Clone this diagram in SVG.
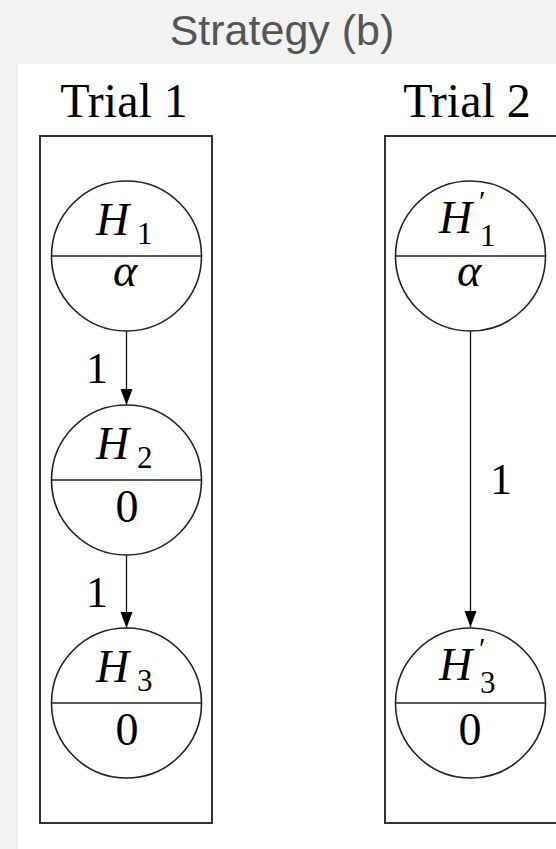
<svg xmlns="http://www.w3.org/2000/svg" width="556" height="849" viewBox="0 0 556 849">
<style>
.box{fill:none;stroke:#333;stroke-width:2}
.node{fill:#fff;stroke:#222;stroke-width:1.6}
.div{stroke:#222;stroke-width:1.6}
.m{font-family:"Liberation Serif","DejaVu Serif",serif;fill:#000}
.it{font-style:italic}
.conn{stroke:#111;stroke-width:1.3;fill:none}
.title{font-family:"Liberation Sans",Arial,sans-serif;font-size:43px;fill:#555}
</style>
<defs>
<marker id="ah" markerUnits="userSpaceOnUse" markerWidth="17" markerHeight="13" refX="16" refY="6" orient="auto" viewBox="0 0 17 13">
<path d="M0,0 L16,6 L0,12 z" fill="#000"/>
</marker>
</defs>
<rect x="0" y="0" width="556" height="849" fill="#f2f2f2"/>
<rect x="18" y="64" width="538" height="785" fill="#fff"/>
<text class="title" x="282" y="45" text-anchor="middle">Strategy (b)</text>

<g id="trial1">
<rect class="box" x="40" y="136" width="172" height="687"/>
<text class="m" x="124" y="117" font-size="48" text-anchor="middle">Trial 1</text>
</g>
<g id="trial2">
<rect class="box" x="385" y="136" width="200" height="687"/>
<text class="m" x="467" y="117" font-size="48" text-anchor="middle">Trial 2</text>
</g>

<g id="connectors">
<line class="conn" x1="126.5" y1="331" x2="126.5" y2="405" marker-end="url(#ah)"/>
<line class="conn" x1="126.5" y1="555" x2="126.5" y2="628" marker-end="url(#ah)"/>
<line class="conn" x1="470.5" y1="331" x2="470.5" y2="627" marker-end="url(#ah)"/>
<text class="m" x="97" y="383" font-size="44" text-anchor="middle">1</text>
<text class="m" x="97" y="607" font-size="44" text-anchor="middle">1</text>
<text class="m" x="501" y="494" font-size="44" text-anchor="middle">1</text>
</g>

<g id="H1">
<circle class="node" cx="126.5" cy="256" r="75"/>
<line class="div" x1="51.5" y1="256" x2="201.5" y2="256"/>
<text class="m it" x="96" y="235" font-size="46">H</text>
<text class="m" x="137" y="244" font-size="31">1</text>
<text class="m it" x="125" y="286" font-size="46" text-anchor="middle">α</text>
</g>
<g id="H2">
<circle class="node" cx="126.5" cy="480" r="75"/>
<line class="div" x1="51.5" y1="480" x2="201.5" y2="480"/>
<text class="m it" x="96" y="459" font-size="46">H</text>
<text class="m" x="137" y="468" font-size="31">2</text>
<text class="m" x="127" y="522" font-size="46" text-anchor="middle">0</text>
</g>
<g id="H3">
<circle class="node" cx="126.5" cy="703" r="75"/>
<line class="div" x1="51.5" y1="703" x2="201.5" y2="703"/>
<text class="m it" x="96" y="682" font-size="46">H</text>
<text class="m" x="137" y="691" font-size="31">3</text>
<text class="m" x="127" y="745" font-size="46" text-anchor="middle">0</text>
</g>
<g id="H1p">
<circle class="node" cx="470.5" cy="256" r="75"/>
<line class="div" x1="395.5" y1="256" x2="545.5" y2="256"/>
<text class="m it" x="439" y="233" font-size="46">H</text>
<text class="m" x="479" y="211" font-size="30">′</text>
<text class="m" x="480" y="246" font-size="31">1</text>
<text class="m it" x="469" y="286" font-size="46" text-anchor="middle">α</text>
</g>
<g id="H3p">
<circle class="node" cx="470.5" cy="703" r="75"/>
<line class="div" x1="395.5" y1="703" x2="545.5" y2="703"/>
<text class="m it" x="439" y="680" font-size="46">H</text>
<text class="m" x="479" y="658" font-size="30">′</text>
<text class="m" x="480" y="693" font-size="31">3</text>
<text class="m" x="470" y="745" font-size="46" text-anchor="middle">0</text>
</g>
</svg>
